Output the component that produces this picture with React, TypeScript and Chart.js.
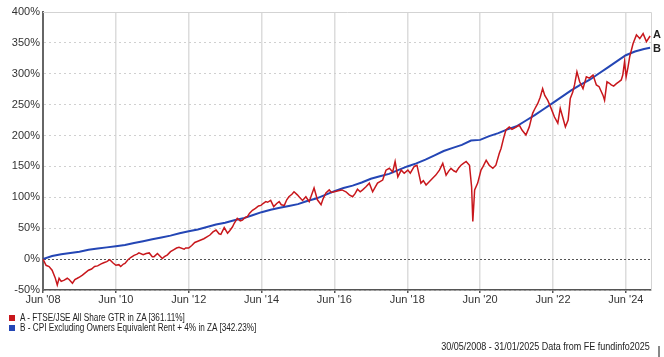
import React, { useEffect, useRef } from "react";
import { Chart, registerables } from "chart.js";
Chart.register(...registerables);

const FONT = "'Liberation Sans', Arial, sans-serif";

// months since Jun 2008 -> tick labels
const xTickMonths = [0, 24, 48, 72, 96, 120, 144, 168, 192];
const xTickLabels = ["Jun '08", "Jun '10", "Jun '12", "Jun '14", "Jun '16", "Jun '18", "Jun '20", "Jun '22", "Jun '24"];

const seriesNames = [
  "A - FTSE/JSE All Share GTR in ZA [361.11%]",
  "B - CPI Excluding Owners Equivalent Rent + 4% in ZA [342.23%]",
];
const seriesTags = ["A", "B"];
const seriesColors = ["#c8171c", "#2446b5"];
const footerText = "30/05/2008 - 31/01/2025 Data from FE fundinfo2025";

// [month since Jun 2008, cumulative % return]
const redSeries: [number, number][] = [
  [0,0],[1,-10],[2,-12],[3,-18],[4,-30],[4.7,-42],[5.3,-31],[6,-36],[7,-34],[8,-31],[8.6,-33],[9.7,-39],[10.5,-33],[11.3,-31],[12,-29],[13,-26],[14,-22],[15,-18],[16,-16],[17,-12],[18,-11],[19,-8],[20,-6],[21,-4],[22,-1],[23,-6],[24,-10],[25,-9],[25.6,-12],[26.5,-8],[27,-7],[28,-1],[29,3],[30,6],[31,8],[31.6,10],[33,7],[34,9],[35,10],[36,4],[36.6,4],[37.7,9],[38.5,5],[39.3,1],[40,4],[41,7],[42,12],[43,15],[44,18],[44.8,19],[46.5,16],[47,18],[48,18],[49,22],[50,27],[51,29],[52,31],[53,33],[54,36],[55,39],[56,44],[57,47],[58,41],[58.6,40],[59.7,51],[60.8,42],[61.5,46],[62.4,52],[63,58],[64,66],[65,62],[65.7,63],[66.5,67],[67.4,69],[68,74],[69,79],[70,82],[71,86],[71.8,87],[72.5,90],[73.4,93],[74,92],[75,95],[76,85],[77,90],[77.8,93],[78.5,88],[79.5,87],[80.3,96],[81,101],[82,105],[82.7,109],[83.8,104],[84.5,100],[85.5,95],[86.6,101],[87.7,93],[88.5,104],[89.3,115],[90.4,96],[91.6,88],[92.3,98],[93.2,107],[94.3,112],[95,108],[96,109],[97.6,111],[98.5,112],[99.8,109],[100.9,104],[102,101],[102.8,106],[103.6,113],[104.5,109],[105.3,112],[106.4,117],[107.5,123],[108.6,109],[109.4,116],[110.2,123],[111.9,128],[113,144],[114.1,147],[115.2,141],[116,158],[116.9,133],[118,144],[119,139],[120.2,144],[121,139],[122.3,150],[123.2,152],[124.5,123],[125.3,127],[126.2,120],[127,124],[127.8,128],[128.6,132],[129.4,136],[130.6,144],[131.7,155],[132.8,136],[133.6,142],[134.4,147],[135.3,143],[136.1,141],[137,148],[137.7,152],[138.5,155],[139.4,158],[140.5,152],[141.2,117],[141.6,61],[142.2,112],[143.2,123],[144.3,144],[145,150],[146,160],[147,152],[148.2,147],[149.2,152],[150.3,171],[150.9,179],[151.7,195],[152.5,209],[153.6,214],[154.5,210],[155.3,212],[156.9,217],[157.8,209],[159.1,201],[160.2,214],[161.3,236],[162,243],[163,252],[163.8,262],[164.6,276],[165.3,265],[166.3,257],[167.4,244],[168.5,230],[169.6,220],[170.4,244],[171.2,230],[172.1,214],[173,225],[173.7,260],[174.5,270],[175.1,282],[175.9,303],[176.8,287],[177.9,276],[179,295],[180,293],[181.2,298],[182.3,282],[183.2,279],[184.5,265],[185,257],[185.8,287],[186.5,285],[187.2,282],[188,280],[188.9,284],[189.7,287],[190.5,290],[191,298],[191.6,320],[192.1,295],[192.7,310],[193.3,328],[194.4,349],[195.5,363],[196.6,357],[197.7,365],[198.8,352],[200,361.11]
];

const blueSeries: [number, number][] = [
  [0,0],[3,5],[6,8],[9,10],[12,12],[15,15],[18,17],[21,19],[24,21],[27,23],[30,26],[33,29],[36,32],[39,35],[42,38],[45,42],[48,45],[51,48],[54,52],[57,56],[60,59],[63,63],[66,66],[69,71],[72,76],[75,80],[78,83],[81,86],[84,89],[87,94],[90,98],[93,104],[96,110],[99,115],[102,119],[105,124],[108,130],[111,134],[114,138],[117,144],[120,150],[123,155],[126,161],[129,168],[132,175],[135,180],[138,185],[141,192],[144,193],[147,199],[150,204],[153,210],[156,215],[159,224],[162,233],[165,243],[168,253],[171,263],[174,273],[177,282],[180,290],[183,300],[186,310],[189,320],[192,330],[195,336],[198,340],[200,342.23]
];

export default function App() {
  const ref = useRef<HTMLCanvasElement>(null);

  useEffect(() => {
    const canvas = ref.current;
    if (!canvas) return;

    const framePlugin = {
      id: "frame",
      beforeDatasetsDraw(chart: any) {
        const { ctx, chartArea: a } = chart;
        ctx.save();
        ctx.strokeStyle = "#d3d3d3";
        ctx.lineWidth = 1;
        ctx.beginPath();
        ctx.moveTo(a.left, a.top + 0.5);
        ctx.lineTo(a.right + 0.5, a.top + 0.5);
        ctx.lineTo(a.right + 0.5, a.bottom);
        ctx.stroke();
        ctx.restore();
      },
      afterDatasetsDraw(chart: any) {
        const { ctx, chartArea: a } = chart;
        ctx.save();
        ctx.font = "bold 11px " + FONT;
        ctx.fillStyle = "#222";
        ctx.textAlign = "left";
        ctx.textBaseline = "middle";
        chart.data.datasets.forEach((ds: any, i: number) => {
          const meta = chart.getDatasetMeta(i);
          const last = meta.data[meta.data.length - 1];
          ctx.fillText(seriesTags[i], a.right + 2, last.y + (i === 0 ? -1 : 1));
        });
        ctx.restore();
      },
    };

    const chart = new Chart(canvas, {
      type: "line",
      data: {
        datasets: [
          {
            label: seriesNames[0],
            data: redSeries.map(([x, y]) => ({ x, y })),
            borderColor: seriesColors[0],
            borderWidth: 1.5,
            pointRadius: 0,
            tension: 0,
          },
          {
            label: seriesNames[1],
            data: blueSeries.map(([x, y]) => ({ x, y })),
            borderColor: seriesColors[1],
            borderWidth: 2,
            pointRadius: 0,
            tension: 0,
          },
        ],
      },
      options: {
        responsive: false,
        animation: false,
        layout: { padding: { left: 0, right: 13, top: 12, bottom: 0 } },
        plugins: { legend: { display: false }, tooltip: { enabled: false } },
        scales: {
          x: {
            type: "linear",
            min: 0,
            max: 200.3,
            afterBuildTicks: (scale: any) => {
              scale.ticks = xTickMonths.map((v) => ({ value: v }));
            },
            afterFit: (scale: any) => {
              scale.height = 67;
            },
            ticks: {
              autoSkip: false,
              maxRotation: 0,
              padding: 0,
              color: "#333",
              font: { family: FONT, size: 11 },
              callback: (v: any) => xTickLabels[xTickMonths.indexOf(Number(v))] ?? "",
            },
            grid: {
              color: "#dcdcdc",
              lineWidth: 1.5,
              tickColor: "#555",
              tickLength: 3,
            },
            border: { color: "#555", width: 1.5 },
          },
          y: {
            min: -50,
            max: 400,
            afterFit: (scale: any) => {
              scale.width = 43;
            },
            ticks: {
              stepSize: 50,
              padding: 3,
              color: "#333",
              font: { family: FONT, size: 11 },
              callback: (v: any) => v + "%",
            },
            grid: {
              drawTicks: false,
              color: (c: any) => (c.tick && c.tick.value === 0 ? "#555" : "#d0d0d0"),
              lineWidth: 1,
            },
            border: {
              color: "#666",
              width: 2,
              dash: (c: any) => (c.tick && c.tick.value === 0 ? [2, 2] : [2, 3]),
            },
          },
        },
      },
      plugins: [framePlugin],
    } as any);

    return () => chart.destroy();
  }, []);

  const textStyle: React.CSSProperties = {
    position: "absolute",
    fontFamily: FONT,
    fontSize: 10,
    lineHeight: "10px",
    color: "#222",
    whiteSpace: "nowrap",
  };

  return (
    <div style={{ position: "fixed", left: 0, top: 0, width: 664, height: 357, background: "#fff", overflow: "hidden" }}>
      <canvas ref={ref} width={664} height={357} style={{ display: "block" }} />
      {seriesNames.map((name, i) => (
        <React.Fragment key={name}>
          <div style={{ position: "absolute", left: 9, top: 314.5 + i * 10, width: 6, height: 6, background: seriesColors[i] }} />
          <div style={{ ...textStyle, left: 20, top: 312.5 + i * 10, transform: "scaleX(0.82)", transformOrigin: "left center" }}>{name}</div>
        </React.Fragment>
      ))}
      <div style={{ ...textStyle, right: 14, top: 342, transform: "scaleX(0.9)", transformOrigin: "right center" }}>{footerText}</div>
      <div style={{ position: "absolute", left: 658, top: 346, width: 2, height: 11, background: "#888" }} />
    </div>
  );
}
